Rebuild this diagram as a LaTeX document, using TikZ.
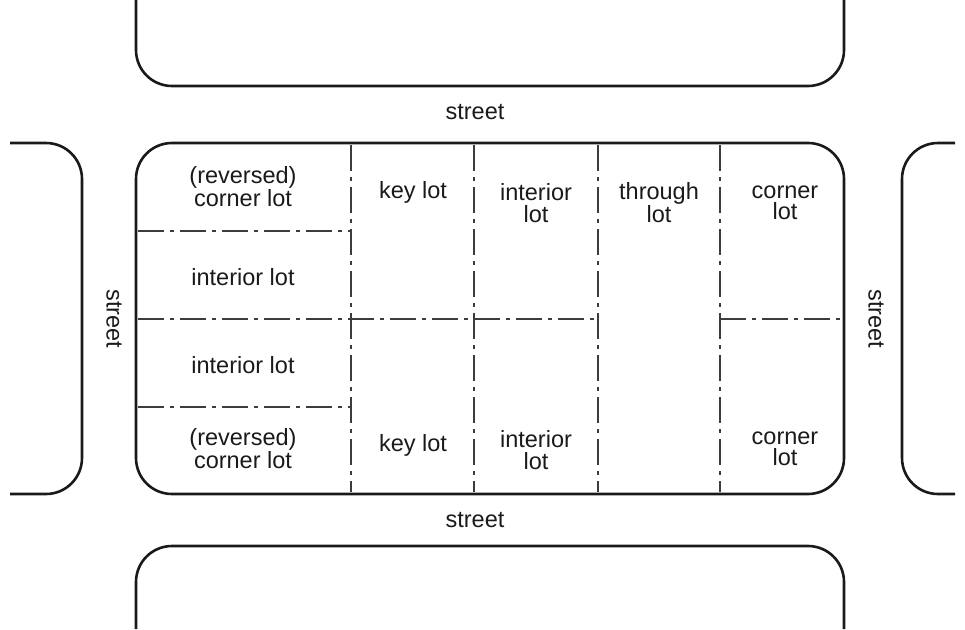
\documentclass[tikz,border=0pt]{standalone}
\usepackage{fontspec}
\setmainfont{Liberation Sans}
\usetikzlibrary{arrows}
\definecolor{ink}{HTML}{1A1A1A}
\tikzset{
    %Define style for block outlines
    block/.style={
           draw=ink,
           line width=2.6pt,
           rounded corners=36pt},
    %Define style for lot lines
    lotline/.style={
           draw=ink!85,
           line width=1.4pt,
           dash pattern=on 26pt off 6pt on 4pt off 6pt},
    %Define style for lot labels
    lot/.style={
           align=center,
           text=ink,
           inner sep=0pt,
           font=\fontsize{23.5}{21.5}\selectfont},
    street/.style={
           lot}
}
\begin{document}
\begin{tikzpicture}[x=1pt,y=-1pt]
\useasboundingbox (0,0) rectangle (965,629);
% neighbouring blocks
\draw[block] (136,0) -- (136,86) -- (844,86) -- (844,0);
\draw[block] (136,629) -- (136,546) -- (844,546) -- (844,629);
\draw[block] (10,143) -- (82,143) -- (82,494) -- (10,494);
\draw[block] (955,143) -- (902,143) -- (902,494) -- (955,494);
% the block
\draw[block] (136,143) rectangle (844,494);
% lot lines
\draw[lotline] (351,145) -- (351,492);
\draw[lotline] (474,145) -- (474,492);
\draw[lotline] (598,145) -- (598,492);
\draw[lotline] (720,145) -- (720,492);
\draw[lotline] (138,231) -- (351,231);
\draw[lotline] (138,407) -- (351,407);
\draw[lotline] (138,319) -- (598,319);
\draw[lotline] (720,319) -- (842,319);
% streets
\node[street](ST) at (475,112){street};
\node[street](SB) at (475,520){street};
\node[street, rotate=-90](SL) at (114,319){street};
\node[street, rotate=-90](SR) at (876,319){street};
% lots
\node[lot](RC1) at (243,187){(reversed)\\corner lot};
\node[lot](K1) at (413,192){key lot};
\node[lot](I1) at (536,203){interior\\lot};
\node[lot](T) at (659,203){through\\lot};
\node[lot](C1) at (785,203){corner\\lot};
\node[lot](I2) at (243,277){interior lot};
\node[lot](I3) at (243,365){interior lot};
\node[lot](RC2) at (243,449){(reversed)\\corner lot};
\node[lot](K2) at (413,445){key lot};
\node[lot](I4) at (536,450){interior\\lot};
\node[lot](C2) at (785,449){corner\\lot};
\end{tikzpicture}
\end{document}
